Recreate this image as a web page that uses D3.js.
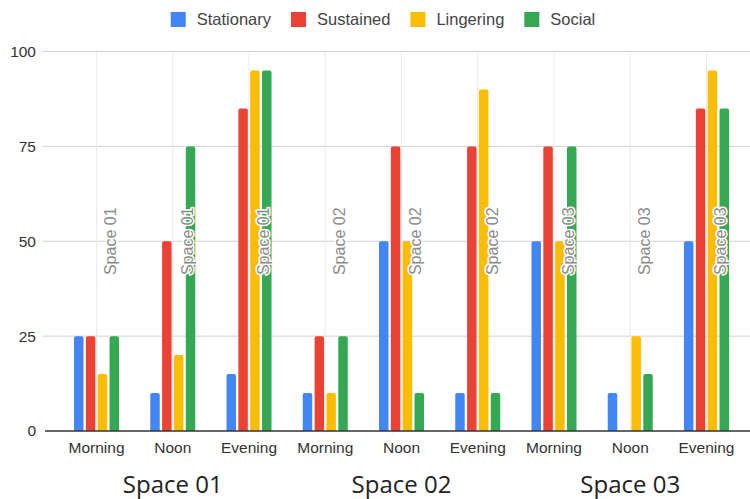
<!DOCTYPE html>
<html><head><meta charset="utf-8">
<script src="https://cdn.jsdelivr.net/npm/d3@7"></script>
<style>html,body{margin:0;padding:0;background:#fff;}svg{display:block;}</style>
</head><body>
<svg id="chart" width="750" height="499"></svg>
<script>
const groups = ["Space 01", "Space 02", "Space 03"];
const times = ["Morning", "Noon", "Evening"];
const series = ["Stationary", "Sustained", "Lingering", "Social"];
const colors = ["#4285F4", "#EA4335", "#FBBC04", "#34A853"];
// values per category (group x time), in series order
const stationary = [25, 10, 15, 10, 50, 10, 50, 10, 50];
const sustained  = [25, 50, 85, 25, 75, 75, 75, 0, 85];
const lingering  = [15, 20, 95, 10, 50, 90, 50, 25, 95];
const social     = [25, 75, 95, 25, 10, 10, 75, 15, 85];
const annotations = ["Space 01","Space 01","Space 01","Space 02","Space 02","Space 02","Space 03","Space 03","Space 03"];
const yTicks = [0, 25, 50, 75, 100];

const seriesValues = [stationary, sustained, lingering, social];
const cats = [];
groups.forEach((g, gi) => times.forEach((t, ti) => cats.push({id: gi*3+ti, group: g, time: t})));

const svg = d3.select("#chart");
const plotL = 43, plotR = 750;
const y = d3.scaleLinear().domain([0, 100]).range([431, 51.5]);
const x0 = d3.scaleBand().domain(cats.map(c => c.id)).range([58.4, 744.6]).padding(0);
const x1 = d3.scaleBand().domain(series).range([-22.5, 22.5]).paddingInner(0.2);
const cx = id => x0(id) + x0.bandwidth() / 2;

// horizontal gridlines
svg.append("g").selectAll("line").data(yTicks.filter(d => d > 0)).join("line")
  .attr("x1", plotL).attr("x2", plotR)
  .attr("y1", d => y(d)).attr("y2", d => y(d))
  .attr("stroke", "#d0d0d0").attr("stroke-width", 1);
// vertical gridlines
svg.append("g").selectAll("line").data(cats).join("line")
  .attr("x1", d => cx(d.id)).attr("x2", d => cx(d.id))
  .attr("y1", y(100)).attr("y2", y(0))
  .attr("stroke", "#ebebeb").attr("stroke-width", 1);

// y axis labels
const yAxis = d3.axisLeft(y).tickValues(yTicks).tickSize(0).tickPadding(0);
const ya = svg.append("g").attr("transform", "translate(36,0)").call(yAxis);
ya.select(".domain").remove();
ya.selectAll("text").attr("font-family", "Liberation Sans, Arial, sans-serif")
  .attr("font-size", 15.5).attr("fill", "#333");

// bars
function barPath(xp, w, yt, yb) {
  const r = Math.min(2, w/2, (yb - yt));
  if (yb - yt <= 0) return "";
  return `M${xp},${yb}V${yt + r}Q${xp},${yt} ${xp + r},${yt}H${xp + w - r}Q${xp + w},${yt} ${xp + w},${yt + r}V${yb}Z`;
}
const barData = [];
cats.forEach(c => series.forEach((s, si) => barData.push({cat: c.id, s, si, v: seriesValues[si][c.id]})));
svg.append("g").selectAll("path").data(barData.filter(d => d.v > 0)).join("path")
  .attr("d", d => barPath(cx(d.cat) + x1(d.s), x1.bandwidth(), y(d.v), y(0)))
  .attr("fill", d => colors[d.si]);

// baseline
svg.append("line").attr("x1", plotL + 2).attr("x2", plotR).attr("y1", y(0)).attr("y2", y(0))
  .attr("stroke", "#333").attr("stroke-width", 1.5);

// annotations (rotated)
svg.append("g").selectAll("text").data(cats).join("text")
  .attr("transform", d => `translate(${cx(d.id) + x1("Social") + x1.bandwidth()/2 - 3.5},${y(50)}) rotate(-90)`)
  .attr("text-anchor", "middle").attr("dominant-baseline", "central")
  .attr("font-family", "Liberation Sans, Arial, sans-serif").attr("font-size", 16)
  .attr("fill", "#8a8a8a").attr("stroke", "#fff").attr("stroke-width", 3)
  .attr("paint-order", "stroke").attr("stroke-linejoin", "round")
  .text(d => annotations[d.id]);

// x axis labels
const xAxis = d3.axisBottom(x0).tickFormat(id => cats[id].time).tickSize(0).tickPadding(0);
const xa = svg.append("g").attr("transform", `translate(0,${y(0)})`).call(xAxis);
xa.select(".domain").remove();
xa.selectAll("text").attr("y", 22).attr("dy", 0)
  .attr("font-family", "Liberation Sans, Arial, sans-serif")
  .attr("font-size", 15.5).attr("fill", "#333");

// group labels
svg.append("g").selectAll("text").data(groups).join("text")
  .attr("x", (g, gi) => cx(gi*3 + 1)).attr("y", 493)
  .attr("text-anchor", "middle")
  .attr("font-family", "Open Sans, sans-serif").attr("font-size", 24)
  .attr("fill", "#222").text(g => g);

// legend
const leg = svg.append("g");
const fs = 16.5, sw = 15, gapT = 11, gapI = 20;
const items = leg.selectAll("g").data(series).join("g");
items.append("rect").attr("width", sw).attr("height", sw).attr("y", 12)
  .attr("fill", (d, i) => colors[i]);
items.append("text").attr("x", sw + gapT).attr("y", 25)
  .attr("font-family", "Liberation Sans, Arial, sans-serif").attr("font-size", fs)
  .attr("fill", "#444").text(d => d);
let xpos = 0;
const widths = [];
items.each(function() { widths.push(d3.select(this).select("text").node().getComputedTextLength()); });
items.attr("transform", (d, i) => { const t = xpos; xpos += sw + gapT + widths[i] + gapI; return `translate(${t},0)`; });
const total = xpos - gapI;
leg.attr("transform", `translate(${383 - total/2},0)`);
</script>
</body></html>
